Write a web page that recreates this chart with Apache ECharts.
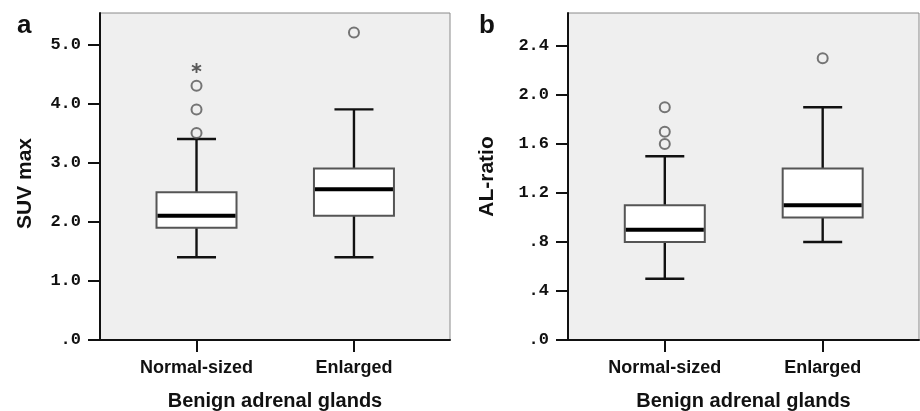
<!DOCTYPE html>
<html>
<head>
<meta charset="utf-8">
<script src="https://cdn.jsdelivr.net/npm/echarts@6/dist/echarts.min.js"></script>
<style>html,body{margin:0;padding:0;background:#fff;}#c{width:920px;height:411px;}</style>
</head>
<body>
<div id="c"></div>
<script>
// ---- data ----
const categories = ['Normal-sized', 'Enlarged'];
const categoryPos = [1, 2];
// [low whisker, Q1, median, Q3, high whisker]
const suvBoxes = [[1.4, 1.9, 2.1, 2.5, 3.4], [1.4, 2.1, 2.55, 2.9, 3.9]];
const suvOutliers = [[1, 3.5], [1, 3.9], [1, 4.3], [2, 5.2]];
const suvExtremes = [[1, 4.6]];
const alBoxes = [[0.5, 0.8, 0.9, 1.1, 1.5], [0.8, 1.0, 1.1, 1.4, 1.9]];
const alOutliers = [[1, 1.6], [1, 1.7], [1, 1.9], [2, 2.3]];
const alExtremes = [];
const yTicksA = [0, 1, 2, 3, 4, 5];
const yTicksB = [0, 0.4, 0.8, 1.2, 1.6, 2.0, 2.4];
const yMaxA = 5.53, yMaxB = 2.67;
const xMin = 0.387, xMax = 2.61;

const starPath = 'path://M0.82,0L1.18,0L1.18,2L0.82,2Z M1.776,0.344L1.956,0.656L0.224,1.656L0.044,1.344Z M1.956,1.344L1.776,1.656L0.044,0.656L0.224,0.344Z';

function fmtY(v) { let s = Number(v).toFixed(1); return s.charAt(0) === '0' ? s.slice(1) : s; }

function renderBox(params, api) {
  const x = api.value(0);
  const lo = api.coord([x, api.value(1)]);
  const q1 = api.coord([x, api.value(2)]);
  const md = api.coord([x, api.value(3)]);
  const q3 = api.coord([x, api.value(4)]);
  const hi = api.coord([x, api.value(5)]);
  const bw = 80, cw = 39, cx = lo[0];
  const blk = { stroke: '#111', lineWidth: 2.4 };
  return {
    type: 'group',
    children: [
      { type: 'line', shape: { x1: cx, y1: lo[1], x2: cx, y2: q1[1] }, style: blk },
      { type: 'line', shape: { x1: cx, y1: q3[1], x2: cx, y2: hi[1] }, style: blk },
      { type: 'line', shape: { x1: cx - cw / 2, y1: lo[1], x2: cx + cw / 2, y2: lo[1] }, style: blk },
      { type: 'line', shape: { x1: cx - cw / 2, y1: hi[1], x2: cx + cw / 2, y2: hi[1] }, style: blk },
      { type: 'rect', shape: { x: cx - bw / 2, y: q3[1], width: bw, height: q1[1] - q3[1] },
        style: { fill: '#fff', stroke: '#555', lineWidth: 2 } },
      { type: 'line', shape: { x1: cx - bw / 2 + 1, y1: md[1], x2: cx + bw / 2 - 1, y2: md[1] },
        style: { stroke: '#000', lineWidth: 4 } }
    ]
  };
}

const sansB = { fontFamily: 'Liberation Sans, Arial, sans-serif', fontWeight: 'bold', color: '#111' };

function xAxisDef(gi) {
  return {
    gridIndex: gi, type: 'value', min: xMin, max: xMax,
    name: 'Benign adrenal glands', nameLocation: 'middle', nameGap: 51,
    nameTextStyle: Object.assign({ fontSize: 20 }, sansB),
    axisLine: { show: true, lineStyle: { color: '#111', width: 2 } },
    axisTick: { show: true, length: 12, customValues: categoryPos, lineStyle: { color: '#111', width: 2 } },
    axisLabel: { customValues: categoryPos, margin: 19, fontSize: 18, fontFamily: sansB.fontFamily, fontWeight: 'bold', color: '#111',
      formatter: function (v) { return categories[categoryPos.indexOf(Math.round(v))] || ''; } },
    splitLine: { show: false }
  };
}
function yAxisDef(gi, name, max, ticks, gap, pad) {
  return {
    gridIndex: gi, type: 'value', min: 0, max: max,
    name: name, nameLocation: 'middle', nameGap: gap,
    nameTextStyle: Object.assign({ fontSize: 21, padding: pad }, sansB),
    axisLine: { show: true, lineStyle: { color: '#111', width: 2 } },
    axisTick: { show: true, length: 12, customValues: ticks, lineStyle: { color: '#111', width: 2 } },
    axisLabel: { customValues: ticks, margin: 19, fontSize: 17, fontFamily: 'Liberation Mono, Courier New, monospace', fontWeight: 'bold', color: '#111', formatter: fmtY },
    splitLine: { show: false }
  };
}

const circleStyle = { color: 'rgba(0,0,0,0)', borderColor: '#555', borderWidth: 2 };

const gridBase = { top: 13, height: 327, show: true, backgroundColor: '#efefef', borderColor: '#8a8a8a', borderWidth: 1, containLabel: false, outerBoundsMode: 'none' };

const option = {
  animation: false,
  backgroundColor: '#fff',
  title: [
    { text: 'a', left: 12, top: 8, textStyle: Object.assign({ fontSize: 26 }, sansB) },
    { text: 'b', left: 474, top: 8, textStyle: Object.assign({ fontSize: 26 }, sansB) }
  ],
  grid: [
    Object.assign({ left: 100, width: 350 }, gridBase),
    Object.assign({ left: 568, width: 351 }, gridBase)
  ],
  xAxis: [xAxisDef(0), xAxisDef(1)],
  yAxis: [yAxisDef(0, 'SUV max', yMaxA, yTicksA, 64, [0, 14, 0, 0]), yAxisDef(1, 'AL-ratio', yMaxB, yTicksB, 70, 0)],
  series: [
    { type: 'custom', xAxisIndex: 0, yAxisIndex: 0, renderItem: renderBox,
      encode: { x: 0, y: [1, 2, 3, 4, 5] },
      data: suvBoxes.map(function (b, i) { return [categoryPos[i]].concat(b); }) },
    { type: 'custom', xAxisIndex: 1, yAxisIndex: 1, renderItem: renderBox,
      encode: { x: 0, y: [1, 2, 3, 4, 5] },
      data: alBoxes.map(function (b, i) { return [categoryPos[i]].concat(b); }) },
    { type: 'scatter', xAxisIndex: 0, yAxisIndex: 0, symbol: 'circle', symbolSize: 10, itemStyle: circleStyle, data: suvOutliers, z: 5 },
    { type: 'scatter', xAxisIndex: 0, yAxisIndex: 0, symbol: starPath, symbolSize: 10, itemStyle: { color: '#333' }, data: suvExtremes, z: 5 },
    { type: 'scatter', xAxisIndex: 1, yAxisIndex: 1, symbol: 'circle', symbolSize: 10, itemStyle: circleStyle, data: alOutliers, z: 5 },
    { type: 'scatter', xAxisIndex: 1, yAxisIndex: 1, symbol: starPath, symbolSize: 10, itemStyle: { color: '#333' }, data: alExtremes, z: 5 }
  ]
};
const chart = echarts.init(document.getElementById('c'), null, { renderer: 'canvas' });
chart.setOption(option);
</script>
</body>
</html>
